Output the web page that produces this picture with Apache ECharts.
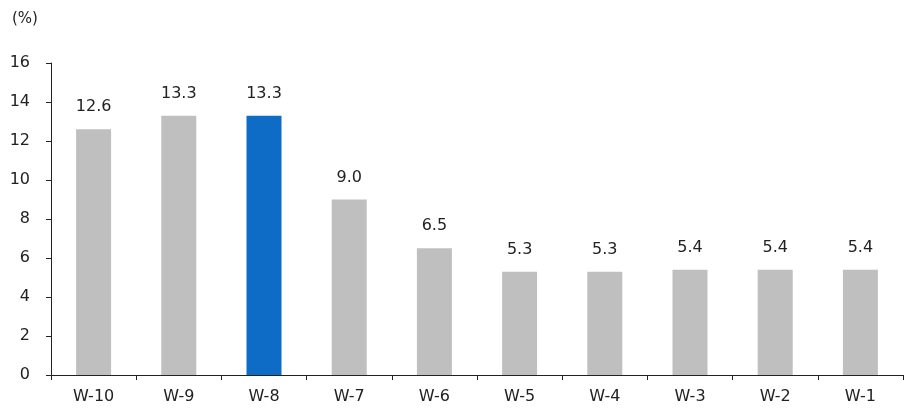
<!DOCTYPE html>
<html><head><meta charset="utf-8">
<script src="https://cdn.jsdelivr.net/npm/echarts@6/dist/echarts.min.js"></script>
<style>html,body{margin:0;padding:0;background:#fff}#c{width:908px;height:408px}</style>
</head><body><div id="c"></div>
<script>
const categories = ['W-10','W-9','W-8','W-7','W-6','W-5','W-4','W-3','W-2','W-1'];
const values = [12.6, 13.3, 13.3, 9.0, 6.5, 5.3, 5.3, 5.4, 5.4, 5.4];
const highlightIndex = 2;
const yTicks = [0, 16, 2];

const chart = echarts.init(document.getElementById('c'), null, {renderer:'canvas'});
const font = '"DejaVu Sans", sans-serif';
chart.setOption({
  animation:false,
  textStyle:{fontFamily:font},
  graphic:[{type:'text', left:12, top:12, style:{text:'(%)', font:'15px '+font, fill:'#222'}}],
  grid:{left:51, right:5, top:63, bottom:33, containLabel:false},
  xAxis:{type:'category', data:categories,
    axisLine:{lineStyle:{color:'#222', width:1}},
    axisTick:{show:true, length:5, lineStyle:{color:'#222'}},
    axisLabel:{color:'#222', fontSize:16, margin:14, fontFamily:font}},
  yAxis:{type:'value', min:yTicks[0], max:yTicks[1], interval:yTicks[2],
    axisLine:{show:true, lineStyle:{color:'#222', width:1}},
    axisTick:{show:true, length:5, lineStyle:{color:'#222'}},
    splitLine:{show:false},
    axisLabel:{color:'#222', fontSize:16, margin:21, fontFamily:font}},
  series:[{type:'bar', barWidth:35,
    data: values.map((v,i)=>({value:v, itemStyle:{color: i===highlightIndex ? '#0f6cc6' : '#bfbfbf'}})),
    label:{show:true, position:'top', distance:14, color:'#222', fontSize:16, fontFamily:font,
      formatter:p=>p.value.toFixed(1)}}]
});
</script></body></html>
